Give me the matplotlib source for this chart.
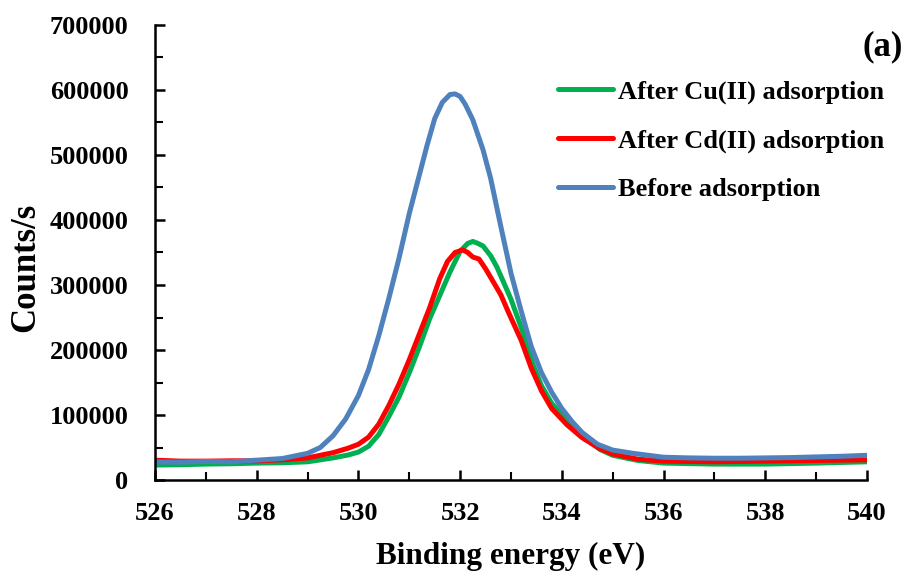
import matplotlib
matplotlib.use('Agg')
import matplotlib.pyplot as plt
from matplotlib.ticker import MultipleLocator

# ---- data (binding energy in eV, counts/s) ----
be_before = [526.0, 526.5, 527.0, 527.5, 528.0, 528.5, 529.0, 529.25, 529.5, 529.75,
             530.0, 530.2, 530.4, 530.6, 530.8, 531.0, 531.2, 531.35, 531.5, 531.65,
             531.8, 531.9, 532.0, 532.1, 532.25, 532.45, 532.6, 532.8, 533.0, 533.2,
             533.4, 533.6, 533.8, 534.0, 534.2, 534.4, 534.7, 535.0, 535.4, 536.0,
             536.5, 537.0, 537.5, 538.0, 538.5, 539.0, 539.5, 540.0]
cps_before = [27700, 27500, 28500, 28000, 30500, 33000, 41000, 50000, 68000, 94000,
              130000, 170000, 222000, 280000, 342000, 410000, 470000, 515000, 556000, 581000,
              593000, 594000, 590000, 578000, 554000, 508000, 464000, 390000, 318000, 260000,
              205000, 165000, 135000, 110000, 90000, 73000, 55000, 46000, 41000, 35000,
              34000, 33500, 33500, 34000, 34500, 35500, 36500, 38000]

be_cd = [526.0, 526.5, 527.0, 527.5, 528.0, 528.5, 529.0, 529.5, 529.8, 530.0,
         530.2, 530.4, 530.6, 530.8, 531.0, 531.2, 531.4, 531.6, 531.75, 531.9,
         532.05, 532.15, 532.25, 532.37, 532.5, 532.65, 532.8, 532.95, 533.2, 533.4,
         533.6, 533.8, 534.1, 534.4, 534.75, 535.0, 535.5, 536.0, 537.0, 538.0,
         539.0, 540.0]
cps_cd = [30500, 29000, 29000, 29500, 29500, 31000, 34000, 42000, 49000, 55000,
          66000, 86000, 115000, 148000, 185000, 225000, 265000, 310000, 336000, 350000,
          354000, 350000, 343000, 340000, 325000, 305000, 285000, 258000, 215000, 172000,
          137000, 110000, 85000, 65000, 48000, 40000, 32000, 29000, 28000, 29000,
          30000, 31000]

be_cu = [526.0, 526.5, 527.0, 527.5, 528.0, 528.5, 529.0, 529.5, 529.8, 530.0,
         530.2, 530.4, 530.6, 530.8, 531.0, 531.2, 531.4, 531.6, 531.8, 532.0,
         532.15, 532.25, 532.35, 532.45, 532.6, 532.72, 532.85, 533.0, 533.24, 533.43,
         533.6, 533.8, 534.1, 534.4, 534.75, 535.0, 535.5, 536.0, 537.0, 538.0,
         539.0, 540.0]
cps_cu = [23000, 23500, 24500, 25000, 26000, 26500, 28000, 34000, 38500, 43000,
          52000, 70000, 98000, 128000, 165000, 205000, 248000, 284000, 320000, 352000,
          364000, 367000, 364000, 360000, 345000, 328000, 305000, 278000, 226000, 178000,
          145000, 118000, 92000, 68000, 47000, 38000, 30000, 26000, 24500, 24500,
          26000, 28000]

labels = ['After Cu(II) adsorption', 'After Cd(II) adsorption', 'Before adsorption']
colors = ['#00B050', '#FF0000', '#4F81BD']

plt.rcParams['font.family'] = ['Liberation Serif', 'DejaVu Serif']
plt.rcParams['font.weight'] = 'bold'

fig = plt.figure(figsize=(9.07, 5.72), dpi=100)
ax = fig.add_axes([155 / 907, 1 - 480 / 572, 712 / 907, 455 / 572])

ax.plot(be_cu, cps_cu, color=colors[0], lw=3.6, label=labels[0], solid_capstyle='round')
ax.plot(be_cd, cps_cd, color=colors[1], lw=3.6, label=labels[1], solid_capstyle='round')
ax.plot(be_before, cps_before, color=colors[2], lw=3.6, label=labels[2], solid_capstyle='round')

ax.set_xlim(526, 540)
ax.set_ylim(0, 700000)
ax.xaxis.set_major_locator(MultipleLocator(2))
ax.xaxis.set_minor_locator(MultipleLocator(1))
ax.yaxis.set_major_locator(MultipleLocator(100000))
ax.yaxis.set_minor_locator(MultipleLocator(50000))

for s in ['top', 'right']:
    ax.spines[s].set_visible(False)
for s in ['left', 'bottom']:
    ax.spines[s].set_linewidth(1.8)

ax.tick_params(which='major', direction='in', length=7, width=1.8, labelsize=19)
ax.tick_params(which='minor', direction='in', length=6, width=1.5)
ax.tick_params(axis='y', which='major', pad=19)
ax.tick_params(axis='x', which='major', pad=16)

ax.set_xlabel('Binding energy (eV)', fontsize=22.5, fontweight='bold', labelpad=12)
# y label placed by hand so its centre sits where the reference has it
fig.text(26 / 907, 1 - 267 / 572, 'Counts/s', fontsize=25, fontweight='bold',
         rotation=90, ha='center', va='center')

fig.text(903 / 907, 1 - 47 / 572, '(a)', fontsize=25, fontweight='bold',
         ha='right', va='center')

ax.legend(loc='upper left', bbox_to_anchor=(558 / 907, 1 - 80 / 572),
          bbox_transform=fig.transFigure, frameon=False, fontsize=19,
          handlelength=2.08, handletextpad=0.19, labelspacing=0.94,
          borderpad=0, borderaxespad=0)

fig.savefig('out.png', dpi=100)
